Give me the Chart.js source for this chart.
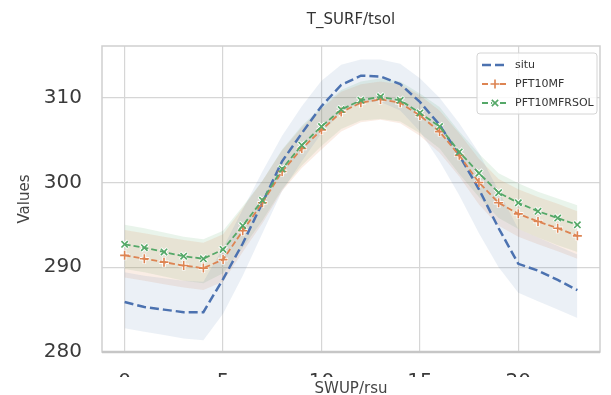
<!DOCTYPE html>
<html>
<head>
<meta charset="utf-8">
<script src="https://cdn.jsdelivr.net/npm/chart.js@4.4.0/dist/chart.umd.min.js"></script>
<style>
  html, body { margin: 0; padding: 0; background: #fff; }
</style>
</head>
<body>
<canvas id="chart" width="611" height="395"></canvas>
<script>
// hours of the day
const hours = [0,1,2,3,4,5,6,7,8,9,10,11,12,13,14,15,16,17,18,19,20,21,22,23];
const xTicks = [0, 5, 10, 15, 20];
const yTicks = [280, 290, 300, 310];

// situ (observations)
const situ      = [285.9,285.3,285.0,284.7,284.7,288.6,292.8,297.6,302.5,305.8,309.0,311.5,312.6,312.5,311.6,309.5,306.8,303.2,299.2,294.6,290.4,289.6,288.5,287.3];
const situLow   = [282.8,282.4,282.0,281.6,281.4,284.5,289.0,294.0,299.0,302.5,305.8,308.3,309.5,309.5,308.5,306.0,302.5,298.5,294.0,290.0,287.0,286.0,285.0,284.0];
const situHigh  = [289.4,289.0,288.7,288.4,288.3,292.3,296.8,301.3,305.5,309.0,312.0,313.9,314.5,314.5,314.0,312.3,310.0,307.0,303.5,299.0,294.5,293.5,292.5,291.5];

// PFT10MF
const mf        = [291.4,291.0,290.6,290.2,289.9,290.9,294.3,297.6,301.3,304.0,306.2,308.3,309.4,309.8,309.4,307.9,306.0,303.2,300.0,297.6,296.3,295.4,294.6,293.7];
const mfLow     = [288.8,288.4,288.0,287.6,287.3,288.3,291.8,295.2,299.0,301.7,303.9,306.0,307.1,307.4,307.0,305.5,303.5,300.7,297.4,294.9,293.6,292.7,291.9,291.0];
const mfHigh    = [294.4,294.0,293.6,293.2,292.9,293.9,297.0,300.2,303.8,306.5,308.7,310.7,311.6,311.9,311.6,310.3,308.5,305.8,302.8,300.4,299.2,298.3,297.5,296.6];

// PFT10MFRSOL
const rsol      = [292.7,292.3,291.8,291.3,291.0,292.1,294.9,297.9,301.6,304.4,306.6,308.6,309.7,310.1,309.7,308.2,306.6,303.6,301.1,298.8,297.6,296.6,295.8,295.0];
const rsolLow   = [289.8,289.4,288.9,288.4,288.1,289.3,292.3,295.5,299.2,302.0,304.3,306.3,307.3,307.5,307.2,305.8,304.0,301.0,298.3,295.8,294.5,293.5,292.6,291.8];
const rsolHigh  = [295.0,294.6,294.1,293.6,293.3,294.3,297.2,300.2,303.9,306.7,308.9,310.9,311.9,312.3,311.9,310.5,308.9,306.0,303.4,301.1,299.9,298.9,298.1,297.3];

const pts = arr => hours.map((h, i) => ({ x: h, y: arr[i] }));

const BLUE = '#4c72b0', ORANGE = '#dd8452', GREEN = '#55a868';

function band(low, high, fillColor) {
  return [
    { data: pts(low), borderWidth: 0, pointRadius: 0, fill: false, order: 10 },
    { data: pts(high), borderWidth: 0, pointRadius: 0, fill: '-1', backgroundColor: fillColor, order: 10 }
  ];
}

function halo(arr, style) {
  return { data: pts(arr), showLine: false, pointStyle: style, pointRadius: 5, pointBorderWidth: 3.5,
           pointBorderColor: '#ffffff', order: 5 };
}

const mainLines = [
  { label: 'situ', data: pts(situ), borderColor: BLUE, borderWidth: 2.5, borderDash: [9, 4],
    pointRadius: 0, fill: false, order: 3, marker: null },
  { label: 'PFT10MF', data: pts(mf), borderColor: ORANGE, borderWidth: 1.8, borderDash: [6, 3],
    pointStyle: 'cross', pointRadius: 4.5, pointBorderWidth: 1.6, pointBorderColor: ORANGE,
    fill: false, order: 2, marker: 'cross' },
  { label: 'PFT10MFRSOL', data: pts(rsol), borderColor: GREEN, borderWidth: 1.8, borderDash: [6, 3],
    pointStyle: 'crossRot', pointRadius: 4.5, pointBorderWidth: 1.6, pointBorderColor: GREEN,
    fill: false, order: 1, marker: 'crossRot' }
];

const datasets = [
  ...band(situLow, situHigh, 'rgba(76,114,176,0.11)'),
  ...band(mfLow, mfHigh, 'rgba(221,132,82,0.15)'),
  ...band(rsolLow, rsolHigh, 'rgba(85,168,104,0.13)'),
  halo(mf, 'cross'),
  halo(rsol, 'crossRot'),
  ...mainLines
];

const framePlugin = {
  id: 'frame',
  beforeDatasetsDraw(chart) {
    const { ctx, chartArea: a } = chart;
    ctx.save();
    ctx.strokeStyle = '#cfcfcf';
    ctx.lineWidth = 1.5;
    ctx.strokeRect(a.left, a.top, a.right - a.left, a.bottom - a.top);
    ctx.strokeStyle = '#c6c6c6';
    ctx.lineWidth = 2.5;
    ctx.beginPath();
    ctx.moveTo(a.left, a.bottom);
    ctx.lineTo(a.right, a.bottom);
    ctx.stroke();
    ctx.restore();
  },
  afterDraw(chart) {
    const { ctx, chartArea: a } = chart;
    ctx.save();
    // the picture is cut through the x tick labels
    ctx.fillStyle = '#ffffff';
    ctx.fillRect(0, 377, chart.width, chart.height - 377);
    ctx.fillStyle = '#444444';
    ctx.font = '15px "DejaVu Sans"';
    ctx.textAlign = 'center';
    ctx.textBaseline = 'top';
    ctx.fillText('SWUP/rsu', (a.left + a.right) / 2, 382);

    // legend box
    const bx = 477, by = 53, bw = 120, bh = 61;
    ctx.fillStyle = 'rgba(255,255,255,0.85)';
    ctx.strokeStyle = '#d4d4d4';
    ctx.lineWidth = 1;
    ctx.beginPath();
    ctx.roundRect(bx, by, bw, bh, 3);
    ctx.fill();
    ctx.stroke();
    mainLines.forEach((d, i) => {
      const y = 65 + i * 19;
      ctx.strokeStyle = d.borderColor;
      ctx.lineWidth = d.borderWidth;
      ctx.setLineDash(d.borderDash);
      ctx.beginPath();
      ctx.moveTo(482, y);
      ctx.lineTo(508, y);
      ctx.stroke();
      ctx.setLineDash([]);
      if (d.marker) {
        ctx.strokeStyle = '#ffffff';
        ctx.lineWidth = 3.5;
        Chart.helpers.drawPoint(ctx, { pointStyle: d.marker, radius: 4.5, borderWidth: 3.5, rotation: 0 }, 495, y);
        ctx.strokeStyle = d.borderColor;
        ctx.lineWidth = 1.6;
        Chart.helpers.drawPoint(ctx, { pointStyle: d.marker, radius: 4.5, borderWidth: 1.6, rotation: 0 }, 495, y);
      }
      ctx.fillStyle = '#333333';
      ctx.font = '11px "DejaVu Sans"';
      ctx.textAlign = 'left';
      ctx.textBaseline = 'middle';
      ctx.fillText(d.label, 515, y);
    });
    ctx.restore();
  }
};

new Chart(document.getElementById('chart'), {
  type: 'line',
  data: { datasets },
  options: {
    responsive: false,
    animation: false,
    layout: { padding: { right: 11, left: 0, bottom: 0, top: 0 } },
    elements: { line: { tension: 0 } },
    plugins: {
      legend: { display: false },
      tooltip: { enabled: false },
      title: {
        display: true,
        text: 'T_SURF/tsol',
        fullSize: false,
        color: '#333333',
        font: { family: 'DejaVu Sans', size: 15, weight: 'normal' },
        padding: { top: 11, bottom: 17 }
      }
    },
    scales: {
      x: {
        type: 'linear',
        min: -1.15,
        max: 24.15,
        afterBuildTicks: s => { s.ticks = xTicks.map(v => ({ value: v })); },
        afterFit: s => { s.height = 43; },
        grid: { color: '#d6d6d6', lineWidth: 1.2, drawTicks: false },
        border: { display: false },
        ticks: { color: '#3a3a3a', padding: 18, font: { family: 'DejaVu Sans', size: 20 } }
      },
      y: {
        min: 280,
        max: 316.1,
        afterBuildTicks: s => { s.ticks = yTicks.map(v => ({ value: v })); },
        afterFit: s => { s.width = 102; },
        grid: { color: '#d6d6d6', lineWidth: 1.2, drawTicks: false },
        border: { display: false },
        ticks: { color: '#3a3a3a', padding: 20, font: { family: 'DejaVu Sans', size: 20 } },
        title: {
          display: true,
          text: 'Values',
          color: '#444444',
          font: { family: 'DejaVu Sans', size: 15 },
          padding: { top: 16, bottom: 0 }
        }
      }
    }
  },
  plugins: [framePlugin]
});
</script>
</body>
</html>
